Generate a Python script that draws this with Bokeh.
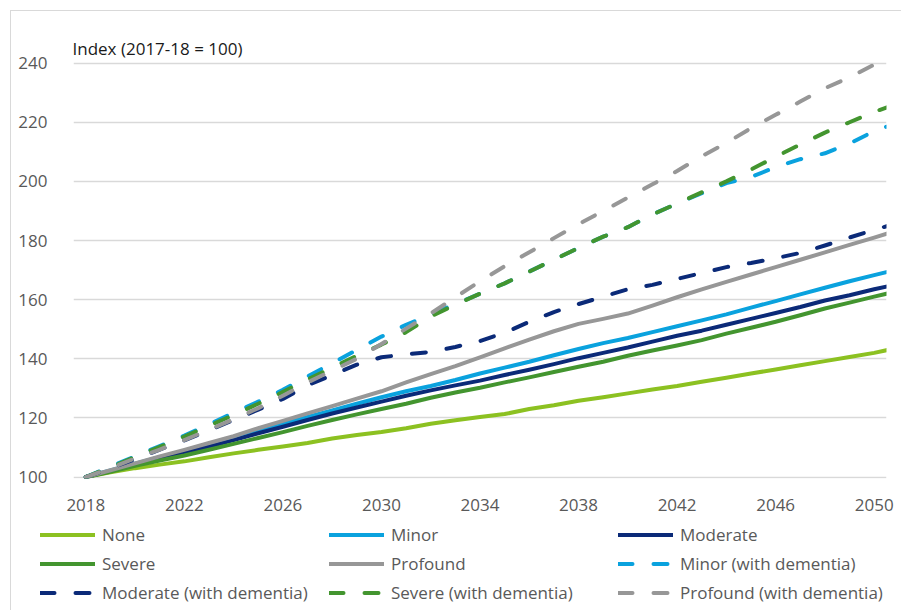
from bokeh.plotting import figure
from bokeh.layouts import column
from bokeh.models import ColumnDataSource, FixedTicker, Legend, LegendItem, Range1d
from bokeh.embed import file_html
from bokeh.resources import INLINE

years = list(range(2018, 2052))

none_vals = [100, 101.6, 103, 104.2, 105.3, 106.7, 108, 109.2, 110.3, 111.5, 113, 114.2,
             115.2, 116.5, 118, 119.2, 120.3, 121.3, 123, 124.3, 125.8, 127, 128.3, 129.6,
             130.8, 132.2, 133.6, 135, 136.4, 137.8, 139.2, 140.6, 142, 143.8]
minor_vals = [100, 102.2, 104.5, 106.7, 108.8, 111, 113.2, 115.5, 118, 120.3, 122.5, 124.8,
              127, 129, 130.8, 132.8, 135, 137, 139, 141.2, 143.3, 145.3, 147, 149,
              151, 153, 155, 157.3, 159.5, 161.8, 164, 166.2, 168.3, 170.3]
moderate_vals = [100, 102, 104.2, 106.3, 108.3, 110.3, 112.5, 114.8, 117, 119.3, 121.5, 123.5,
                 125.5, 127.5, 129.3, 131, 132.6, 134.5, 136.3, 138.2, 140.2, 142, 143.8, 145.8,
                 147.8, 149.5, 151.5, 153.5, 155.5, 157.5, 159.7, 161.5, 163.5, 165.3]
severe_vals = [100, 101.8, 103.8, 105.6, 107.3, 109.2, 111.2, 113.2, 115.2, 117.3, 119.3, 121.2,
               123, 124.8, 126.8, 128.6, 130.2, 132, 133.7, 135.5, 137.3, 139, 141, 142.8,
               144.5, 146.3, 148.5, 150.5, 152.5, 154.7, 157, 159, 161, 163]
profound_vals = [100, 102.3, 104.6, 107, 109.2, 111.5, 113.8, 116.5, 119, 121.5, 124, 126.5,
                 129, 132, 134.8, 137.5, 140.5, 143.5, 146.5, 149.3, 151.8, 153.5, 155.3, 158,
                 160.8, 163.5, 166, 168.5, 171, 173.5, 176, 178.5, 181, 183.5]
minor_dem_vals = [100, 103.5, 107, 110.5, 114, 117.8, 121.7, 125.5, 129.5, 134, 138.5, 143,
                  147.5, 151.5, 155, 158.5, 162, 165.5, 169.5, 173.5, 177.5, 181.3, 184.5, 188.8,
                  192.5, 196, 199.4, 201.5, 204.8, 207.5, 209.5, 212.8, 217, 220]
moderate_dem_vals = [100, 103, 106, 109.3, 112.4, 115.8, 119.3, 122.8, 126.4, 131, 134.5, 138,
                     140.5, 141.5, 142.3, 144, 146, 148.8, 152.5, 155.8, 158.5, 161, 163.5, 165,
                     167, 169, 171, 172.4, 174, 175.8, 178.3, 181, 183.6, 186]
severe_dem_vals = [100, 103.3, 106.8, 110.2, 113.7, 117.3, 121, 124.8, 128.8, 133, 137, 141,
                   144.8, 149, 154.3, 158.3, 162, 165.5, 169.5, 173.5, 177.5, 181.3, 184.5, 188.8,
                   192.5, 196.3, 200, 204, 208.3, 212.5, 216.5, 220, 223.5, 226.5]
profound_dem_vals = [100, 103, 106.3, 109.3, 112.5, 116, 119.5, 123.3, 127.5, 132, 136, 140,
                     145, 150.2, 155.3, 160.8, 166.2, 171.3, 176, 180.8, 185.5, 190, 194.5, 199,
                     203.5, 208.5, 213, 218, 222.5, 227, 231.5, 235.2, 239.5, 242.5]

series_names = ["None", "Minor", "Moderate", "Severe", "Profound",
                "Minor (with dementia)", "Moderate (with dementia)",
                "Severe (with dementia)", "Profound (with dementia)"]
series_values = [none_vals, minor_vals, moderate_vals, severe_vals, profound_vals,
                 minor_dem_vals, moderate_dem_vals, severe_dem_vals, profound_dem_vals]
series_colors = ["#8cc121", "#0aa2de", "#0b2a78", "#43952f", "#979797",
                 "#0aa2de", "#0b2a78", "#43952f", "#979797"]
series_dashed = [False, False, False, False, False, True, True, True, True]

x_ticks = list(range(2018, 2051, 4))
y_ticks = list(range(100, 241, 20))

FONT = "Open Sans"
TXT = "#595959"

p = figure(width=890, height=509, output_backend="svg", toolbar_location=None,
           x_range=Range1d(2017.5, 2050.5), y_range=Range1d(99.5, 241.9),
           min_border_left=62, min_border_right=15, min_border_top=46, min_border_bottom=42)
p.frame_align = False
p.outline_line_color = None
p.background_fill_color = "white"
p.border_fill_color = "white"

p.title.text = "Index (2017-18 = 100)"
p.title.align = "left"
p.title.text_font = FONT
p.title.text_font_size = "17px"
p.title.text_font_style = "normal"
p.title.text_color = "#1a1a1a"
p.title.standoff = -4
p.title.offset = -1

p.xgrid.grid_line_color = None
p.ygrid.grid_line_color = "#d9d9d9"
p.ygrid.grid_line_width = 1.3
p.ygrid.ticker = FixedTicker(ticks=y_ticks)

p.xaxis.ticker = FixedTicker(ticks=x_ticks)
p.yaxis.ticker = FixedTicker(ticks=y_ticks)
for ax in (p.xaxis[0], p.yaxis[0]):
    ax.axis_line_color = None
    ax.major_tick_line_color = None
    ax.minor_tick_line_color = None
    ax.major_label_text_font = FONT
    ax.major_label_text_font_size = "17px"
    ax.major_label_text_color = TXT
p.xaxis.major_label_standoff = 14
p.yaxis.major_label_standoff = 20

# legend figure (its ranges exclude the data, so only the legend shows)
pl = figure(width=890, height=90, output_backend="svg", toolbar_location=None,
            x_range=Range1d(0, 1), y_range=Range1d(0, 1),
            x_axis_type=None, y_axis_type=None,
            min_border_left=29, min_border_right=0, min_border_top=0, min_border_bottom=0)
pl.frame_align = False
pl.outline_line_color = None
pl.grid.visible = False
pl.background_fill_color = "white"
pl.border_fill_color = "white"

items = []
for name, vals, col, dashed in zip(series_names, series_values, series_colors, series_dashed):
    dash = "14 21" if dashed else "solid"
    src = ColumnDataSource(data=dict(x=years, y=vals))
    p.line("x", "y", source=src, line_color=col, line_width=4,
           line_cap="round", line_join="round", line_dash=dash)
    rl = pl.line("x", "y", source=src, line_color=col, line_width=4,
                 line_cap="round", line_join="round", line_dash=dash)
    items.append(LegendItem(label=name, renderers=[rl]))

legend = Legend(items=items, location="top_left", orientation="horizontal", ncols=3,
                padding=0, margin=0, spacing=0, glyph_width=55, glyph_height=29,
                label_height=29, label_width=227, label_standoff=7,
                border_line_color=None, background_fill_alpha=0,
                label_text_font=FONT, label_text_font_size="17px", label_text_color=TXT)
pl.add_layout(legend, "center")

layout = column(p, pl, spacing=0,
                styles={"margin-left": "10px", "margin-top": "10px",
                        "border-left": "1px solid #d9d9d9", "border-top": "1px solid #d9d9d9"})

open("out.html", "w").write(file_html(layout, INLINE))
